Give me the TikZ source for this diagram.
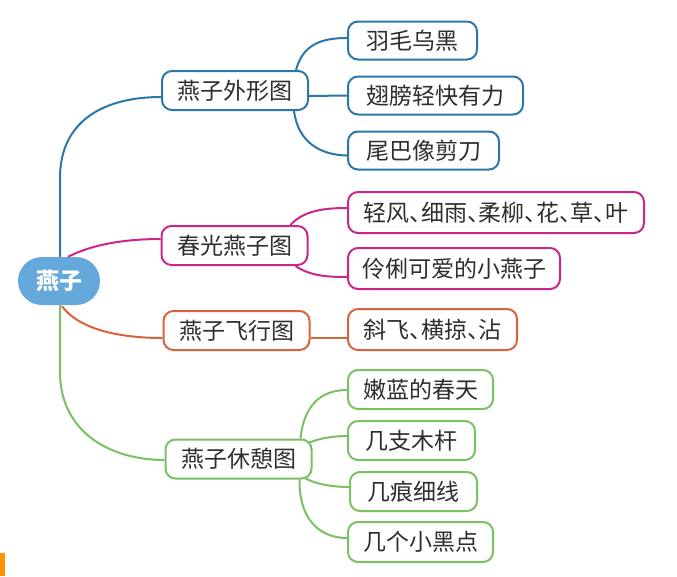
\documentclass[tikz,border=0pt]{standalone}
\usepackage{fontspec}
\newfontfamily\cjk{Noto Sans CJK SC}
\definecolor{cblue}{HTML}{2A78A8}
\definecolor{cmag}{HTML}{C8288C}
\definecolor{cora}{HTML}{D8643C}
\definecolor{cgrn}{HTML}{7AC064}
\definecolor{croot}{HTML}{64A8DC}
\definecolor{ctxt}{HTML}{2E2E2E}
\newcommand{\dunhao}{\makebox[0.5em][l]{、}}
\begin{document}
\begin{tikzpicture}[x=1pt,y=-1pt,
  box/.style={draw,line width=2pt,rounded corners=10pt,fill=white,inner sep=0pt,
    font=\cjk\fontsize{23}{26}\selectfont,text=ctxt,anchor=center},
  lone/.style={box,minimum width=146pt,minimum height=39pt},
  ltwo/.style={box,minimum height=38pt},
  link/.style={line width=2pt}]
\useasboundingbox (0,0) rectangle (677,576);
\fill[white] (0,0) rectangle (677,576);
\fill[orange!85!yellow] (0,553) rectangle (5,576);

% root
\node[fill=croot,rounded corners=24pt,minimum width=82pt,minimum height=48pt,inner sep=0pt,
  text=white,font=\cjk\bfseries\fontsize{23}{26}\selectfont] (root) at (59,281) {燕子};

% level 1
\node[lone,draw=cblue] (wx) at (235,90.5) {燕子外形图};
\node[lone,draw=cmag] (cg) at (234.5,245.5) {春光燕子图};
\node[lone,draw=cora] (fx) at (236.5,330.5) {燕子飞行图};
\node[lone,draw=cgrn] (xq) at (238.5,459) {燕子休憩图};

% level 2
\node[ltwo,draw=cblue,minimum width=129pt] (a1) at (412.5,40.5) {羽毛乌黑};
\node[ltwo,draw=cblue,minimum width=175pt] (a2) at (435.5,95.5) {翅膀轻快有力};
\node[ltwo,draw=cblue,minimum width=151pt] (a3) at (423.5,150.5) {尾巴像剪刀};
\node[ltwo,draw=cmag,minimum width=296pt,minimum height=41pt] (b1) at (496,212.5) {轻风\dunhao 细雨\dunhao 柔柳\dunhao 花\dunhao 草\dunhao 叶};
\node[ltwo,draw=cmag,minimum width=212pt,minimum height=41pt] (b2) at (454,268.5) {伶俐可爱的小燕子};
\node[ltwo,draw=cora,minimum width=169pt,minimum height=41pt] (c1) at (432.5,329.5) {斜飞\dunhao 横掠\dunhao 沾};
\node[ltwo,draw=cgrn,minimum width=145pt,minimum height=39pt] (d1) at (420.5,389.5) {嫩蓝的春天};
\node[ltwo,draw=cgrn,minimum width=127pt,minimum height=39pt] (d2) at (411.5,440.5) {几支木杆};
\node[ltwo,draw=cgrn,minimum width=127pt,minimum height=39pt] (d3) at (413.5,491.5) {几痕细线};
\node[ltwo,draw=cgrn,minimum width=145pt,minimum height=40pt] (d4) at (420.5,542) {几个小黑点};

% root connectors
\draw[link,cblue] ([xshift=1pt]root.north) -- (60,178) .. controls (60,120) and (105,97) .. ([yshift=-6.5pt]wx.west);
\draw[link,cmag] ([xshift=9pt]root.north) .. controls (95,243) and (130,239) .. ([yshift=6.5pt]cg.west);
\draw[link,cora] ([xshift=3pt,yshift=-1pt]root.south) .. controls (82,333) and (130,338) .. ([yshift=-7.5pt]fx.west);
\draw[link,cgrn] ([xshift=1pt]root.south) -- (60,372) .. controls (60,432) and (110,460) .. ([yshift=-1pt]xq.west);

% level 1 -> level 2
\draw[link,cblue] ([xshift=-13pt]wx.north east) .. controls (303,44) and (322,38) .. ([yshift=2.5pt]a1.west);
\draw[link,cblue] ([yshift=-5.5pt]wx.east) -- (a2.west);
\draw[link,cblue] ([xshift=-15pt]wx.south east) .. controls (298,142) and (320,155) .. ([yshift=-5pt]a3.west);
\draw[link,cmag] ([xshift=-18pt]cg.north east) .. controls (303,211) and (323,208) .. ([yshift=4.5pt]b1.west);
\draw[link,cmag] ([xshift=-13pt]cg.south east) .. controls (310,276) and (328,277) .. ([yshift=-8.5pt]b2.west);
\draw[link,cora] ([yshift=-7.5pt]fx.east) -- ([yshift=-8.5pt]c1.west);
\draw[link,cgrn] ([xshift=-12pt]xq.north east) .. controls (304,404) and (322,390) .. ([yshift=-0.5pt]d1.west);
\draw[link,cgrn] ([xshift=-3pt,yshift=-4pt]xq.north east) .. controls (320,438) and (335,436) .. ([yshift=4.5pt]d2.west);
\draw[link,cgrn] ([xshift=-7pt,yshift=1pt]xq.south east) .. controls (318,485) and (335,487) .. ([yshift=4.5pt]d3.west);
\draw[link,cgrn] ([xshift=-13pt]xq.south east) .. controls (299,520) and (320,538) .. ([yshift=4pt]d4.west);
\end{tikzpicture}
\end{document}
